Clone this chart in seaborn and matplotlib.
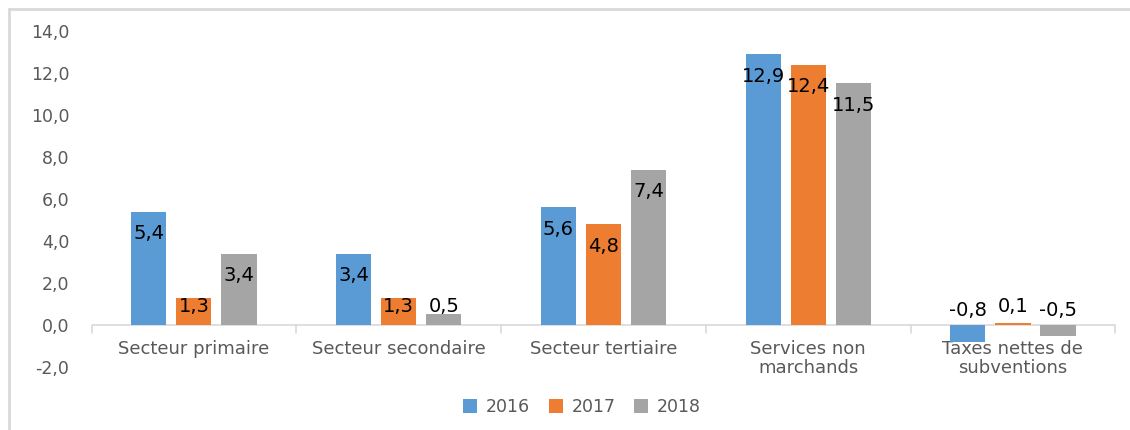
import seaborn as sns
import matplotlib.pyplot as plt
import pandas as pd
from matplotlib.lines import Line2D

# data
categories = ["Secteur primaire", "Secteur secondaire", "Secteur tertiaire",
              "Services non\nmarchands", "Taxes nettes de\nsubventions"]
years = ["2016", "2017", "2018"]
v2016 = [5.4, 3.4, 5.6, 12.9, -0.8]
v2017 = [1.3, 1.3, 4.8, 12.4, 0.1]
v2018 = [3.4, 0.5, 7.4, 11.5, -0.5]
yticks = [-2, 0, 2, 4, 6, 8, 10, 12, 14]

df = pd.DataFrame({
    "cat": categories * 3,
    "year": [y for y in years for _ in categories],
    "val": v2016 + v2017 + v2018,
})

colors = ["#5B9BD5", "#ED7D31", "#A5A5A5"]

sns.set_style("white")
plt.rcParams['font.family'] = ['DejaVu Sans']

fig = plt.figure(figsize=(11.3, 4.3), dpi=100)
ax = fig.add_axes([0.081, 0.1465, 0.906, 0.7815])

sns.barplot(data=df, x="cat", y="val", hue="year", palette=colors,
            width=0.66, gap=0.22, ax=ax, saturation=1, linewidth=0,
            legend=True)

ax.set_ylim(-2, 14)
ax.set_xlim(-0.5, 4.5)
ax.set_yticks(yticks)
ax.set_yticklabels([f"{t:.1f}".replace(".", ",") for t in yticks],
                   color="#595959", fontsize=12.5)
ax.set_xlabel("")
ax.set_ylabel("")
for s in ax.spines.values():
    s.set_visible(False)
ax.spines["bottom"].set_position(("data", 0))
ax.axhline(0, color="#D9D9D9", lw=1.2, zorder=0)
ax.tick_params(axis="y", length=0, pad=16)
ax.tick_params(axis="x", length=0, pad=11)
for lbl in ax.get_xticklabels():
    lbl.set_color("#595959")
    lbl.set_fontsize(13)
    lbl.set_linespacing(1.05)

# separator ticks between categories
for b in [-0.5, 0.5, 1.5, 2.5, 3.5, 4.5]:
    ax.plot([b, b], [0, -0.38], color="#D9D9D9", lw=1.2, clip_on=False)

# data labels
for cont in ax.containers:
    for bar in cont:
        v = bar.get_height()
        xc = bar.get_x() + bar.get_width() / 2
        if v < 0:
            y = 0.68
        else:
            y = max(v - 1.05, 0.9)
        ax.text(xc, y, f"{v:.1f}".replace(".", ","), ha="center", va="center",
                fontsize=14, color="black")

handles, labels = ax.get_legend_handles_labels()
ax.get_legend().remove()
fig.legend(handles, labels, loc="center", bbox_to_anchor=(0.515, 1 - 407 / 430),
           ncol=3, frameon=False, fontsize=12.5, handlelength=0.8,
           handleheight=0.8, handletextpad=0.5, columnspacing=1.1,
           labelcolor="#595959")

# outer frame (top and left edges)
fig.add_artist(Line2D([9 / 1130, 1], [1 - 9 / 430, 1 - 9 / 430],
                      transform=fig.transFigure, color="#D9D9D9", lw=2))
fig.add_artist(Line2D([9 / 1130, 9 / 1130], [0, 1 - 9 / 430],
                      transform=fig.transFigure, color="#D9D9D9", lw=2))

fig.savefig("out.png", dpi=100)
